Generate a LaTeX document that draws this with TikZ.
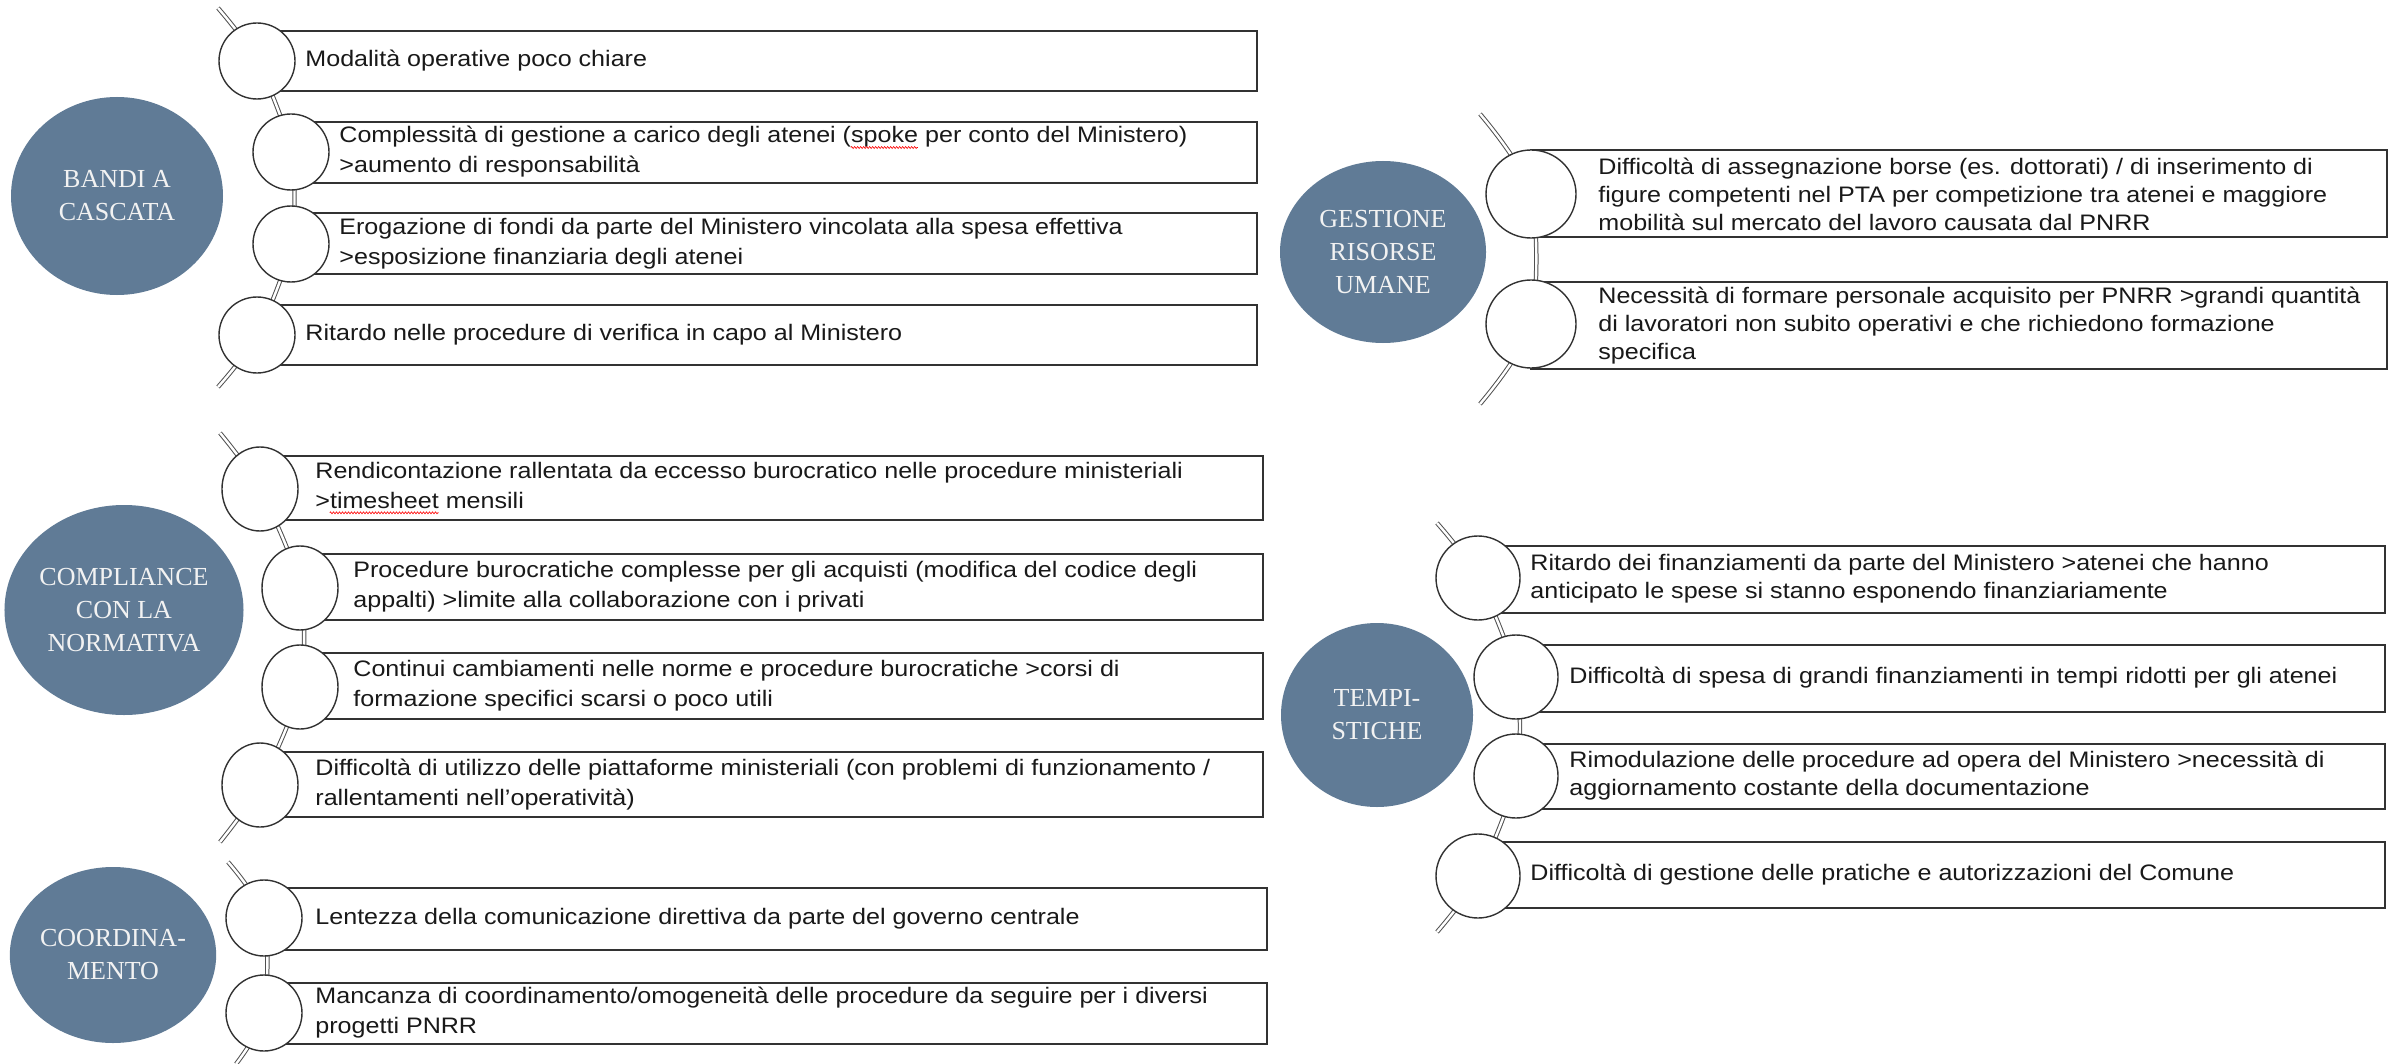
\documentclass[tikz,border=0pt]{standalone}
\usepackage{fontspec}
\setmainfont{Liberation Sans}
\newfontfamily\boxfont[FakeStretch=1.12]{Liberation Sans}
\newfontfamily\bubblefont{Liberation Serif}
\usetikzlibrary{shapes.geometric,fit,decorations.pathmorphing}
\definecolor{bubblefill}{RGB}{96,123,150}
\definecolor{linegray}{RGB}{50,50,50}
\definecolor{spinegray}{RGB}{80,80,80}
\newsavebox\sqbox
\newcommand{\squig}[1]{\sbox\sqbox{#1}\usebox\sqbox\llap{\tikz[baseline=0pt]\draw[red, line width=0.3pt, decorate, decoration={zigzag, amplitude=0.5pt, segment length=1.5pt}] (0pt,-2.3pt) -- (\wd\sqbox,-2.3pt);}}
\begin{document}
\begin{tikzpicture}[x=0.5pt,y=-0.5pt,
 bubble/.style={ellipse, fill=bubblefill, draw=none, text=white!95!black, font=\bubblefont\fontsize{13}{16.5}\selectfont, align=center, inner sep=0},
 ring/.style={ellipse, draw=linegray, line width=0.7pt, fill=white, inner sep=0},
 box/.style={rectangle, draw=linegray, line width=0.9pt, inner sep=0},
 txtL/.style={anchor=west, align=left, inner sep=0, text=black!90, font=\boxfont\fontsize{11.2}{15}\selectfont},
 txtR/.style={anchor=west, align=left, inner sep=0, text=black!90, font=\boxfont\fontsize{11.2}{14}\selectfont},
 spine/.style={draw=spinegray, double=white, double distance=1.2pt, line width=0.5pt},
]
\useasboundingbox (0,0) rectangle (2397,1064);
\fill[white] (0,0) rectangle (2397,1064);

% ---------------- Group 1: BANDI A CASCATA
\coordinate (s1t) at (218,8);
\coordinate (p11) at (257,61);
\coordinate (p12) at (291,152);
\coordinate (p13) at (291,244);
\coordinate (p14) at (257,335);
\coordinate (s1b) at (218,387);
\node[box, fit={(257,31) (1257,91)}] (b11) {};
\node[box, fit={(291,122) (1257,183)}] (b12) {};
\node[box, fit={(291,213) (1257,274)}] (b13) {};
\node[box, fit={(257,305) (1257,365)}] (b14) {};
\draw[spine] plot[smooth] coordinates {(s1t) (p11) (p12) (p13) (p14) (s1b)};
\node[ring, minimum width=38pt, minimum height=38pt] (c11) at (p11) {};
\node[ring, minimum width=38pt, minimum height=38pt] (c12) at (p12) {};
\node[ring, minimum width=38pt, minimum height=38pt] (c13) at (p13) {};
\node[ring, minimum width=38pt, minimum height=38pt] (c14) at (p14) {};
\node[txtL] (t11) at (305,61) {Modalità operative poco chiare};
\node[txtL] (t12) at (339,152) {Complessità di gestione a carico degli atenei (\squig{spoke} per conto del Ministero)\\>aumento di responsabilità};
\node[txtL] (t13) at (339,244) {Erogazione di fondi da parte del Ministero vincolata alla spesa effettiva\\>esposizione finanziaria degli atenei};
\node[txtL] (t14) at (305,335) {Ritardo nelle procedure di verifica in capo al Ministero};
\node[bubble, minimum width=106pt, minimum height=99pt] (e1) at (117,196) {BANDI A\\CASCATA};

% ---------------- Group 2: GESTIONE RISORSE UMANE
\coordinate (s2t) at (1480,114);
\coordinate (p21) at (1531,194);
\coordinate (p22) at (1531,324);
\coordinate (s2b) at (1480,404);
\node[box, fit={(1531,150) (2387,237)}] (b21) {};
\node[box, fit={(1531,282) (2387,369)}] (b22) {};
\draw[spine] plot[smooth] coordinates {(s2t) (p21) (p22) (s2b)};
\node[ring, minimum width=45pt, minimum height=44pt] (c21) at (p21) {};
\node[ring, minimum width=45pt, minimum height=44pt] (c22) at (p22) {};
\node[txtR] (t21) at (1598,194) {Difficoltà di assegnazione borse (es. dottorati) / di inserimento di\\figure competenti nel PTA per competizione tra atenei e maggiore\\mobilità sul mercato del lavoro causata dal PNRR};
\node[txtR] (t22) at (1598,326) {Necessità di formare personale acquisito per PNRR >grandi quantità\\di lavoratori non subito operativi e che richiedono formazione\\specifica};
\node[bubble, minimum width=103pt, minimum height=91pt] (e2) at (1383,252) {GESTIONE\\RISORSE\\UMANE};

% ---------------- Group 3: COMPLIANCE CON LA NORMATIVA
\coordinate (s3t) at (220,433);
\coordinate (p31) at (260,489);
\coordinate (p32) at (300,588);
\coordinate (p33) at (300,687);
\coordinate (p34) at (260,785);
\coordinate (s3b) at (220,842);
\node[box, fit={(260,456) (1263,520)}] (b31) {};
\node[box, fit={(300,554) (1263,620)}] (b32) {};
\node[box, fit={(300,653) (1263,719)}] (b33) {};
\node[box, fit={(260,752) (1263,817)}] (b34) {};
\draw[spine] plot[smooth] coordinates {(s3t) (p31) (p32) (p33) (p34) (s3b)};
\node[ring, minimum width=38pt, minimum height=42pt] (c31) at (p31) {};
\node[ring, minimum width=38pt, minimum height=42pt] (c32) at (p32) {};
\node[ring, minimum width=38pt, minimum height=42pt] (c33) at (p33) {};
\node[ring, minimum width=38pt, minimum height=42pt] (c34) at (p34) {};
\node[txtL] (t31) at (315,488) {Rendicontazione rallentata da eccesso burocratico nelle procedure ministeriali\\>\squig{timesheet} mensili};
\node[txtL] (t32) at (353,587) {Procedure burocratiche complesse per gli acquisti (modifica del codice degli\\appalti) >limite alla collaborazione con i privati};
\node[txtL] (t33) at (353,686) {Continui cambiamenti nelle norme e procedure burocratiche >corsi di\\formazione specifici scarsi o poco utili};
\node[txtL] (t34) at (315,785) {Difficoltà di utilizzo delle piattaforme ministeriali (con problemi di funzionamento /\\rallentamenti nell’operatività)};
\node[bubble, minimum width=109pt, minimum height=105pt] (e3) at (124,610) {COMPLIANCE\\CON LA\\NORMATIVA};

% ---------------- Group 4: COORDINAMENTO
\coordinate (s4t) at (228,862);
\coordinate (p41) at (264,918);
\coordinate (p42) at (264,1013);
\coordinate (s4b) at (236,1064);
\node[box, fit={(264,888) (1267,950)}] (b41) {};
\node[box, fit={(264,983) (1267,1044)}] (b42) {};
\draw[spine] plot[smooth] coordinates {(s4t) (p41) (p42) (s4b)};
\node[ring, minimum width=38pt, minimum height=38pt] (c41) at (p41) {};
\node[ring, minimum width=38pt, minimum height=38pt] (c42) at (p42) {};
\node[txtL] (t41) at (315,919) {Lentezza della comunicazione direttiva da parte del governo centrale};
\node[txtL] (t42) at (315,1013) {Mancanza di coordinamento/omogeneità delle procedure da seguire per i diversi\\progetti PNRR};
\node[bubble, minimum width=103pt, minimum height=88pt] (e4) at (113,955) {COORDINA-\\MENTO};

% ---------------- Group 5: TEMPISTICHE
\coordinate (s5t) at (1437,523);
\coordinate (p51) at (1478,578);
\coordinate (p52) at (1516,677);
\coordinate (p53) at (1516,776);
\coordinate (p54) at (1478,876);
\coordinate (s5b) at (1437,932);
\node[box, fit={(1478,546) (2385,613)}] (b51) {};
\node[box, fit={(1516,645) (2385,712)}] (b52) {};
\node[box, fit={(1516,744) (2385,809)}] (b53) {};
\node[box, fit={(1478,842) (2385,908)}] (b54) {};
\draw[spine] plot[smooth] coordinates {(s5t) (p51) (p52) (p53) (p54) (s5b)};
\node[ring, minimum width=42pt, minimum height=42pt] (c51) at (p51) {};
\node[ring, minimum width=42pt, minimum height=42pt] (c52) at (p52) {};
\node[ring, minimum width=42pt, minimum height=42pt] (c53) at (p53) {};
\node[ring, minimum width=42pt, minimum height=42pt] (c54) at (p54) {};
\node[txtR] (t51) at (1530,579) {Ritardo dei finanziamenti da parte del Ministero >atenei che hanno\\anticipato le spese si stanno esponendo finanziariamente};
\node[txtR] (t52) at (1569,678) {Difficoltà di spesa di grandi finanziamenti in tempi ridotti per gli atenei};
\node[txtR] (t53) at (1569,776) {Rimodulazione delle procedure ad opera del Ministero >necessità di\\aggiornamento costante della documentazione};
\node[txtR] (t54) at (1530,875) {Difficoltà di gestione delle pratiche e autorizzazioni del Comune};
\node[bubble, minimum width=96pt, minimum height=92pt] (e5) at (1377,715) {TEMPI-\\STICHE};
\end{tikzpicture}
\end{document}
